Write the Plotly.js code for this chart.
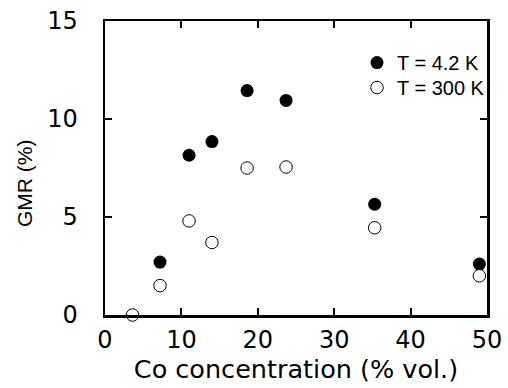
<!DOCTYPE html>
<html>
<head>
<meta charset="utf-8">
<script src="https://cdn.plot.ly/plotly-3.0.1.min.js"></script>
<style>html,body{margin:0;padding:0;background:#fff;}#chart{width:508px;height:388px;}</style>
</head>
<body>
<div id="chart"></div>
<script>
// Data
const coConc42K = [7.2, 11.0, 14.0, 18.6, 23.7, 35.3, 49.0];
const gmr42K    = [2.7, 8.15, 8.85, 11.45, 10.95, 5.65, 2.6];
const coConc300K = [3.6, 7.2, 11.0, 14.0, 18.6, 23.7, 35.3, 49.0];
const gmr300K    = [0.0, 1.5, 4.8, 3.7, 7.5, 7.55, 4.45, 2.0];
const seriesNames = ['T = 4.2 K', 'T = 300 K'];
const xTicks = [0, 10, 20, 30, 40, 50];
const yTicks = [0, 5, 10, 15];

const traces = [
  {
    x: coConc42K, y: gmr42K, name: seriesNames[0], legend: 'legend',
    type: 'scatter', mode: 'markers', cliponaxis: false,
    marker: {symbol: 'circle', size: 13, color: '#000', line: {color: '#000', width: 0}}
  },
  {
    x: coConc300K, y: gmr300K, name: seriesNames[1], legend: 'legend2',
    type: 'scatter', mode: 'markers', cliponaxis: false,
    marker: {symbol: 'circle', size: 12.5, color: '#fff', line: {color: '#000', width: 1}}
  }
];

const tickFont = {family: 'DejaVu Sans', size: 24, color: '#000'};
const legendFont = {family: 'Liberation Sans', size: 20, color: '#000'};
const layout = {
  width: 508, height: 388,
  margin: {l: 105, r: 21, t: 21, b: 73, pad: 0},
  paper_bgcolor: '#fff', plot_bgcolor: '#fff',
  showlegend: true,
  legend: {
    x: 0.6597, y: 0.925, xanchor: 'left', yanchor: 'top',
    bgcolor: 'rgba(0,0,0,0)', borderwidth: 0, font: legendFont
  },
  legend2: {
    x: 0.6597, y: 0.840, xanchor: 'left', yanchor: 'top',
    bgcolor: 'rgba(0,0,0,0)', borderwidth: 0, font: legendFont
  },
  xaxis: {
    range: [0, 50], tickvals: xTicks, ticktext: xTicks.map(String),
    ticks: 'inside', ticklen: 7, tickwidth: 2, tickcolor: '#000',
    showline: true, linewidth: 2.5, linecolor: '#000', mirror: 'ticks',
    showgrid: false, zeroline: false,
    tickfont: tickFont, ticklabelstandoff: 2,
    title: {text: 'Co concentration (% vol.)', font: {family: 'DejaVu Sans', size: 25.5, color: '#000'}, standoff: 2}
  },
  yaxis: {
    range: [0, 15], tickvals: yTicks, ticktext: yTicks.map(String),
    ticks: 'inside', ticklen: 7, tickwidth: 2, tickcolor: '#000',
    showline: true, linewidth: 2.5, linecolor: '#000', mirror: 'ticks',
    showgrid: false, zeroline: false,
    tickfont: tickFont, ticklabelstandoff: 20
  },
  annotations: [{
    text: 'GMR (%)', textangle: -90, showarrow: false,
    xref: 'paper', yref: 'paper',
    x: (25 - 105) / 382, y: (315 - 183) / 294,
    xanchor: 'center', yanchor: 'middle',
    font: {family: 'Liberation Sans', size: 21, color: '#000'}
  }]
};

Plotly.newPlot('chart', traces, layout, {displayModeBar: false, staticPlot: true});
</script>
</body>
</html>
